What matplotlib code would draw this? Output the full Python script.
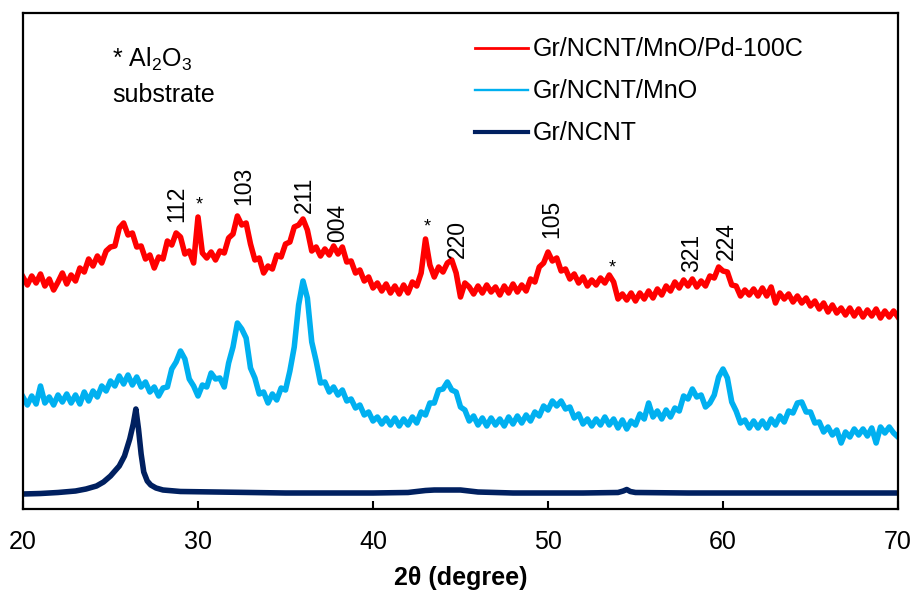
"""XRD patterns of Gr/NCNT, Gr/NCNT/MnO and Gr/NCNT/MnO/Pd-100C."""

import numpy as np
import matplotlib
matplotlib.use("Agg")
import matplotlib.pyplot as plt

plt.rcParams['font.family'] = ['Liberation Sans', 'DejaVu Sans']
plt.rcParams['mathtext.default'] = 'regular'

# scan step of the noisy patterns (degrees 2 theta)
two_theta = np.round(np.arange(20.0, 70.001, 0.25), 2)

# intensities (arbitrary, offset already applied)
pd_100c = [
    232, 224, 233, 226, 235, 223, 230, 219,
    227, 236, 225, 234, 228, 241, 237, 250,
    243, 253, 246, 258, 262, 263, 281, 286,
    274, 276, 262, 263, 250, 254, 241, 252,
    250, 268, 264, 276, 272, 255, 258, 246,
    292, 256, 251, 257, 249, 258, 256, 271,
    275, 293, 284, 286, 265, 249, 251, 236,
    243, 240, 254, 252, 265, 267, 282, 284,
    290, 279, 258, 262, 253, 260, 254, 263,
    255, 262, 247, 248, 236, 239, 228, 232,
    221, 226, 218, 225, 216, 223, 215, 224,
    216, 227, 223, 236, 270, 244, 232, 242,
    237, 246, 249, 236, 212, 226, 222, 215,
    223, 216, 224, 217, 222, 214, 223, 216,
    225, 217, 224, 218, 230, 227, 242, 246,
    257, 248, 251, 238, 240, 230, 235, 226,
    232, 223, 229, 224, 231, 226, 234, 227,
    210, 215, 209, 216, 208, 216, 210, 218,
    211, 220, 214, 223, 218, 227, 221, 229,
    223, 230, 222, 228, 223, 233, 231, 242,
    238, 237, 224, 223, 213, 219, 214, 220,
    213, 221, 213, 222, 206, 216, 210, 215,
    207, 213, 206, 211, 203, 208, 200, 206,
    197, 204, 196, 201, 194, 201, 193, 200,
    192, 199, 193, 200, 191, 198, 192, 198,
    192,
]

mno = [
    112, 104, 113, 105, 123, 106, 112, 104,
    114, 107, 115, 106, 114, 105, 117, 108,
    118, 112, 123, 118, 128, 123, 133, 125,
    134, 124, 132, 122, 127, 117, 122, 113,
    121, 122, 140, 147, 158, 150, 130, 123,
    113, 124, 122, 136, 130, 131, 122, 146,
    162, 186, 180, 171, 141, 131, 115, 117,
    106, 115, 109, 121, 119, 138, 162, 204,
    228, 211, 167, 148, 126, 127, 117, 122,
    114, 119, 108, 110, 101, 104, 94, 97,
    88, 92, 85, 91, 84, 91, 83, 90,
    84, 92, 86, 97, 94, 106, 106, 119,
    120, 127, 119, 117, 102, 99, 88, 93,
    84, 91, 83, 91, 84, 90, 83, 92,
    85, 93, 86, 94, 88, 97, 93, 103,
    99, 108, 103, 108, 100, 102, 91, 95,
    85, 90, 83, 90, 84, 92, 84, 90,
    81, 89, 80, 88, 84, 95, 90, 106,
    92, 98, 90, 99, 92, 101, 98, 113,
    110, 120, 112, 114, 102, 106, 114, 132,
    140, 131, 107, 98, 86, 89, 81, 88,
    81, 88, 81, 90, 84, 93, 87, 98,
    96, 106, 107, 97, 97, 86, 87, 77,
    82, 74, 79, 66, 77, 72, 80, 74,
    80, 73, 81, 66, 82, 76, 82, 76,
    72,
]

# Gr/NCNT is smooth, so fewer points
two_theta_ncnt = [20, 21, 22, 23, 23.6, 24.2, 24.6, 25.0, 25.5, 25.8, 26.1,
                  26.3, 26.45, 26.6, 26.75, 26.9, 27.1, 27.3, 27.6, 28.0, 29,
                  31, 35, 40, 42, 42.5, 43, 43.5, 44, 44.5, 45, 45.5, 46, 48,
                  52, 54, 54.3, 54.5, 54.7, 55, 58, 62, 66, 70]
ncnt = [15, 15.5, 16.5, 18, 20, 23, 27, 33, 43, 53, 70,
        85, 100, 80, 55, 37, 28, 24, 21, 19, 17.5,
        17, 16, 16, 16.5, 17.5, 18.5, 19, 19, 19, 19, 18, 17, 16,
        16, 16.5, 18, 19.5, 17.5, 16.5, 16, 16, 16, 16]

# peak indexing: (2theta, height of label bottom, text)
peak_labels = [(28.8, 287, "112"), (32.6, 304, "103"), (36.1, 296, "211"),
               (38.0, 267, "004"), (44.8, 251, "220"), (50.2, 271, "105"),
               (58.2, 237, "321"), (60.2, 249, "224")]
substrate_peaks = [(30.1, 304), (43.1, 282), (53.7, 241)]

fig = plt.figure(figsize=(9.14, 5.92), dpi=100)
ax = fig.add_axes([23 / 914, 83 / 592, 875 / 914, 496 / 592])

ax.plot(two_theta, pd_100c, color='#ff0000', lw=4, label='Gr/NCNT/MnO/Pd-100C')
ax.plot(two_theta, mno, color='#00b0f0', lw=4, label='Gr/NCNT/MnO')
ax.plot(two_theta_ncnt, ncnt, color='#002060', lw=4, label='Gr/NCNT',
        solid_joinstyle='round')

for x, y, s in peak_labels:
    ax.text(x, y, s, rotation=90, ha='center', va='bottom', fontsize=16.5)
for x, y in substrate_peaks:
    ax.text(x, y, '*', ha='center', va='center', fontsize=13)

ax.text(25.1, 442, r'* Al$_2$O$_3$', fontsize=18, va='baseline')
ax.text(25.1, 407, 'substrate', fontsize=18, va='baseline')

ax.set_xlim(20, 70)
ax.set_ylim(0, 496)
ax.set_xticks([20, 30, 40, 50, 60, 70])
ax.set_yticks([])
ax.tick_params(axis='x', direction='in', length=6, width=1.5, labelsize=18, pad=15)
for sp in ax.spines.values():
    sp.set_linewidth(1.6)
ax.set_xlabel('2θ (degree)', fontsize=18, fontweight='bold', labelpad=9)

leg = ax.legend(loc='upper left', bbox_to_anchor=(0.5166, 0.951), frameon=False,
                fontsize=18, handlelength=2.1, handletextpad=0.2, labelspacing=0.72,
                borderpad=0, borderaxespad=0)
for line, w in zip(leg.get_lines(), [2.0, 1.7, 3.0]):
    line.set_linewidth(w)

fig.savefig('out.png', dpi=100)
